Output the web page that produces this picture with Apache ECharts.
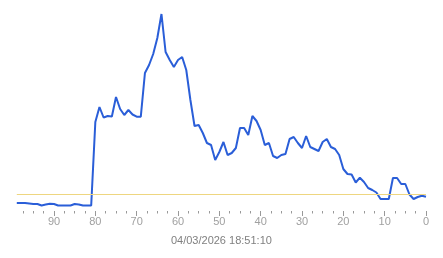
<!DOCTYPE html>
<html>
<head>
<meta charset="utf-8">
<script src="https://cdn.jsdelivr.net/npm/echarts@6/dist/echarts.min.js"></script>
<style>
html,body{margin:0;padding:0;background:#fff;}
#chart{width:443px;height:258px;}
</style>
</head>
<body>
<div id="chart"></div>
<script>
var xValues = [99,98,97,96,95,94,93,92,91,90,89,88,87,86,85,84,83,82,81,80,
  79,78,77,76,75,74,73,72,71,70,69,68,67,66,65,64,63,62,61,60,
  59,58,57,56,55,54,53,52,51,50,49,48,47,46,45,44,43,42,41,40,
  39,38,37,36,35,34,33,32,31,30,29,28,27,26,25,24,23,22,21,20,
  19,18,17,16,15,14,13,12,11,10,9,8,7,6,5,4,3,2,1,0];
var yValues = [4,4,4,3.75,3.5,3.5,2.75,3.25,3.65,3.5,2.75,2.75,2.75,2.75,3.5,3.25,2.75,2.75,2.75,44.5,
  52,46.75,47.5,47.25,57,51,48,50.5,48.25,47.15,47.15,69,73,78.5,86.5,98.5,79.5,75.5,72,75.5,
  77,70.5,55.5,42.5,43,39,34,33,25.5,29.5,34.5,28,29,31.5,41.5,41.5,38,47.5,45,40.5,
  33,34,27.5,26.5,28,28.5,36,37,34,31.5,37.5,32,31,30,34.5,36,32,31,28,21,
  18.5,18.25,14.25,16.65,14.5,11.5,10.5,9.25,6,6,6,16.5,16.5,13.5,13.5,8.25,6,7,7.65,7.15];
var thresholdValue = 8.5;
var majorTicks = [0,10,20,30,40,50,60,70,80,90];
var minorTicks = [2.5,5,7.5,12.5,15,17.5,22.5,25,27.5,32.5,35,37.5,42.5,45,47.5,
  52.5,55,57.5,62.5,65,67.5,72.5,75,77.5,82.5,85,87.5,92.5,95,97.5];
var timeLabel = '04/03/2026 18:51:10';

var data = xValues.map(function(x, i){ return [x, yValues[i]]; });

var chart = echarts.init(document.getElementById('chart'), null, {renderer:'canvas'});
chart.setOption({
  animation: false,
  backgroundColor: '#ffffff',
  grid: {left: 16.8, right: 17, top: 11, bottom: 47},
  xAxis: [{
    type: 'value', inverse: true, min: 0, max: 99,
    axisLine: {show: false},
    splitLine: {show: false},
    axisTick: {show: true, length: 5, customValues: majorTicks, lineStyle: {color: '#999'}},
    axisLabel: {show: true, customValues: majorTicks, color: '#a0a0a0', fontSize: 11,
      fontFamily: 'Liberation Sans, Arial, sans-serif', margin: 5},
    name: timeLabel, nameLocation: 'middle', nameGap: 24,
    nameTextStyle: {color: '#808080', fontSize: 11, fontFamily: 'Liberation Sans, Arial, sans-serif'}
  }, {
    type: 'value', inverse: true, min: 0, max: 99, position: 'bottom',
    axisLine: {show: false},
    splitLine: {show: false},
    axisTick: {show: true, length: 2.5, customValues: minorTicks, lineStyle: {color: '#999'}},
    axisLabel: {show: false}
  }],
  yAxis: {
    type: 'value', min: 0, max: 100, show: false
  },
  series: [{
    type: 'line',
    xAxisIndex: 0,
    data: data,
    showSymbol: false,
    lineStyle: {color: '#2a5ed8', width: 2},
    itemStyle: {color: '#2a5ed8'},
    z: 3,
    markLine: {
      silent: true,
      symbol: ['none', 'none'],
      label: {show: false},
      lineStyle: {color: '#eed680', width: 1, type: 'solid'},
      data: [{yAxis: thresholdValue}]
    }
  }]
});
</script>
</body>
</html>
